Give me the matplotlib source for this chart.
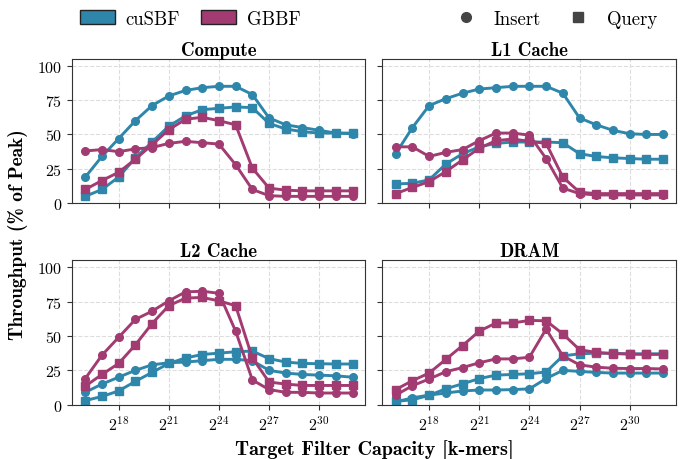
import matplotlib

matplotlib.use("Agg")
import matplotlib.pyplot as plt
from matplotlib.lines import Line2D
from matplotlib.patches import Patch

# filter capacities 2^16 .. 2^32
exponents = list(range(16, 33))
capacity = [2 ** e for e in exponents]

panels = ["Compute", "L1 Cache", "L2 Cache", "DRAM"]

cusbf_insert = {
    "Compute": [19, 34, 47, 60, 71, 78, 82, 84, 85, 85, 79, 62, 57, 55, 53, 51, 50.5],
    "L1 Cache": [36, 55, 71, 76, 80, 83, 84, 85, 85, 85, 80, 62, 57, 53, 50.5, 50, 50],
    "L2 Cache": [9, 15, 20, 25, 29, 30.5, 31, 32, 33, 33, 32, 25, 23, 22, 21.5, 21, 20],
    "DRAM": [2, 5, 7, 8.5, 10, 10.7, 10.7, 11, 11.5, 19, 25, 24.2, 23.5, 23, 23, 23, 23],
}
cusbf_query = {
    "Compute": [5, 10, 19, 33, 44.5, 56, 63.5, 68, 69, 70, 69.5, 58, 54, 52, 51, 51, 51],
    "L1 Cache": [14, 14.5, 17, 28.5, 36, 41, 43.5, 44.5, 44.5, 44.5, 44, 36, 34, 33, 32.5, 32, 32],
    "L2 Cache": [3, 6, 10, 17, 23.5, 30, 34, 36.5, 37.5, 38.5, 39, 33.5, 31, 30, 29.8, 29.6, 29.6],
    "DRAM": [2.4, 3.6, 6.8, 11.6, 15.2, 19, 21.5, 22, 22.5, 23.8, 35.5, 37, 37.5, 37.3, 37, 37, 37],
}
gbbf_insert = {
    "Compute": [38, 39, 37.5, 39.5, 40.5, 43.5, 45, 44, 43, 28, 10, 5.5, 5, 5, 5, 5, 5],
    "L1 Cache": [41, 41, 34, 37, 39, 45.5, 51, 51, 49.5, 32.5, 11, 7, 6, 6, 6, 6, 6],
    "L2 Cache": [19, 36, 49, 62, 68, 75.5, 82, 82.5, 81, 53.5, 18, 11, 9, 9, 8.5, 8.5, 8.5],
    "DRAM": [7, 13.8, 18.7, 24, 27, 30.5, 33.3, 33.3, 34.5, 55, 35.5, 29, 27.3, 26.5, 26.3, 26.3, 26],
}
gbbf_query = {
    "Compute": [10, 16.5, 22.5, 32, 42.5, 53.5, 61, 62.5, 60, 57, 25.5, 11, 9.5, 9, 9, 9, 9],
    "L1 Cache": [7, 11.5, 15.7, 23, 31.5, 40, 45.5, 46.7, 45, 43.5, 19, 8, 7, 7, 7, 7, 7],
    "L2 Cache": [13.5, 22, 30, 43.5, 59, 72, 77.5, 78, 75.5, 72, 34, 16.5, 15, 14, 14, 14, 14],
    "DRAM": [11, 17.5, 23, 33, 43, 53.5, 59.4, 59.4, 61.3, 61, 51.5, 40, 38, 37.2, 36.8, 36.6, 36.6],
}

blue = "#2E86AB"
magenta = "#A23B72"

plt.rcParams.update({
    "font.family": "cmr10",
    "mathtext.fontset": "cm",
    "axes.formatter.use_mathtext": True,
    "axes.unicode_minus": False,
})

fig, axes = plt.subplots(2, 2, figsize=(6.91, 4.6), dpi=100, sharex=True, sharey=True)
fig.subplots_adjust(left=0.104, right=0.978, top=0.870, bottom=0.118, wspace=0.058, hspace=0.395)

for ax, name in zip(axes.flat, panels):
    ax.plot(capacity, cusbf_insert[name], color=blue, marker="o", lw=2.1, ms=5.5)
    ax.plot(capacity, cusbf_query[name], color=blue, marker="s", lw=2.1, ms=5.5)
    ax.plot(capacity, gbbf_insert[name], color=magenta, marker="o", lw=2.1, ms=5.5)
    ax.plot(capacity, gbbf_query[name], color=magenta, marker="s", lw=2.1, ms=5.5)
    ax.set_xscale("log", base=2)
    ax.set_xlim(2 ** 15.2, 2 ** 32.76)
    ax.set_ylim(0, 105)
    ax.set_xticks([2 ** e for e in (18, 21, 24, 27, 30)])
    ax.set_xticklabels([r"$2^{%d}$" % e for e in (18, 21, 24, 27, 30)])
    ax.xaxis.set_minor_locator(matplotlib.ticker.NullLocator())
    ax.set_yticks([0, 25, 50, 75, 100])
    ax.grid(True, ls="--", color="#dddddd", lw=0.8)
    ax.set_axisbelow(True)
    ax.tick_params(labelsize=11.5, color="#333333", length=3.5)
    for sp in ax.spines.values():
        sp.set_color("#333333")
    ax.set_title(name, fontsize=13.5, family="cmb10", pad=3)

fig.supylabel("Throughput (% of Peak)", family="cmb10", fontsize=14, x=0.012, y=0.49)
fig.supxlabel("Target Filter Capacity [k-mers]", family="cmb10", fontsize=14.5, x=0.541, y=0.0)

lib_handles = [
    Patch(facecolor=blue, edgecolor="#222222", label="cuSBF"),
    Patch(facecolor=magenta, edgecolor="#222222", label="GBBF"),
]
op_handles = [
    Line2D([], [], color="#444444", marker="o", ls="none", ms=7, label="Insert"),
    Line2D([], [], color="#444444", marker="s", ls="none", ms=7, label="Query"),
]
fig.legend(handles=lib_handles, loc="upper left", bbox_to_anchor=(0.091, 1.013), ncol=2,
           frameon=False, fontsize=13.5, handlelength=1.9, handleheight=0.8, columnspacing=1.1,
           handletextpad=0.55)
fig.legend(handles=op_handles, loc="upper right", bbox_to_anchor=(0.975, 1.013), ncol=2,
           frameon=False, fontsize=13.5, columnspacing=1.0, handletextpad=0.5)

fig.savefig("out.png", dpi=100)
